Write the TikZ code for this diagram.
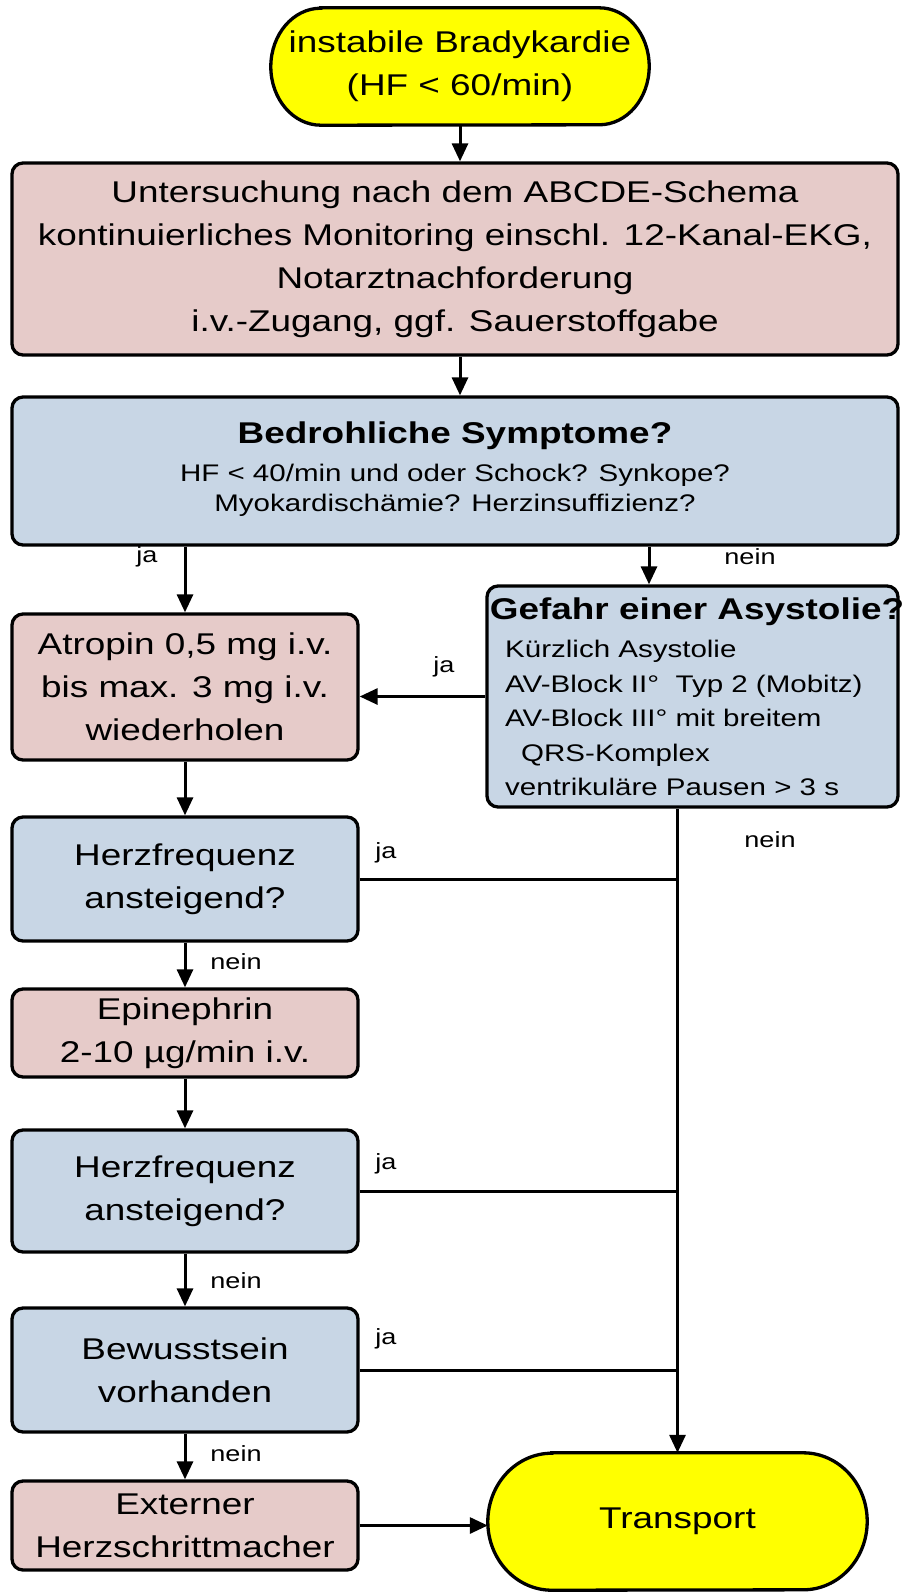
\documentclass[tikz,border=0pt]{standalone}
\usepackage{fontspec}
\setmainfont{Liberation Sans}[FakeStretch=1.23]
\usetikzlibrary{arrows.meta,calc,backgrounds}
\definecolor{pinkbox}{HTML}{E6CBC9}
\definecolor{bluebox}{HTML}{C8D6E5}
\definecolor{termyel}{HTML}{FFFF00}
\tikzset{
  box/.style={draw=black, line width=3.3pt, rounded corners=11pt, inner sep=0pt, align=center, font=\fontsize{30}{43}\selectfont},
  pbox/.style={box, fill=pinkbox},
  bbox/.style={box, fill=bluebox},
  termtext/.style={inner sep=0pt, align=center, font=\fontsize{30}{43}\selectfont},
  term/.style={draw=black, line width=3.3pt, fill=termyel},
  conn/.style={line width=3pt, draw=black},
  arr/.style={conn, -{Triangle[length=18pt,width=16pt]}},
  lbl/.style={font=\fontsize{22}{26}\selectfont, inner sep=0pt},
  plain/.style={inner sep=0pt},
}
\begin{document}
\begin{tikzpicture}[x=1pt,y=1pt]
\useasboundingbox (0,0) rectangle (904,-1593);
% nodes
\node[termtext, minimum width=378, minimum height=117] (s) at (460,-66.5) {instabile Bradykardie\\(HF < 60/min)};
\node[pbox, minimum width=886, minimum height=192] (b1) at (455,-259) {\raisebox{-3pt}{}Untersuchung nach dem ABCDE-Schema\\kontinuierliches Monitoring einschl. 12-Kanal-EKG,\\Notarztnachforderung\\i.v.-Zugang, ggf. Sauerstoffgabe};
\node[bbox, minimum width=886, minimum height=148] (b2) at (455,-471) {};
\node[plain, font=\bfseries\fontsize{30}{36}\selectfont] (b2t) at (455,-436) {Bedrohliche Symptome?};
\node[plain, align=center, font=\fontsize{24}{30}\selectfont] (b2l) at (455,-490) {HF < 40/min und oder Schock? Synkope?\\Myokardischämie? Herzinsuffizienz?};
\node[pbox, minimum width=346, minimum height=146] (atr) at (185,-687) {Atropin 0,5 mg i.v.\\bis max. 3 mg i.v.\\wiederholen};
\node[bbox, minimum width=411, minimum height=221] (gef) at (692.5,-696.5) {};
\node[plain, font=\bfseries\fontsize{30}{36}\selectfont] (geft) at (697,-612) {Gefahr einer Asystolie?};
\node[plain, anchor=west, align=left, font=\fontsize{24}{34.5}\selectfont] (gefl) at (505,-718) {Kürzlich Asystolie\\AV-Block II°\ \ Typ 2 (Mobitz)\\AV-Block III° mit breitem\\\hspace*{16pt}QRS-Komplex\\ventrikuläre Pausen > 3 s};
\node[bbox, minimum width=346, minimum height=124] (h1) at (185,-879) {Herzfrequenz\\ansteigend?};
\node[pbox, minimum width=346, minimum height=88] (epi) at (185,-1033) {Epinephrin\\2-10 µg/min i.v.};
\node[bbox, minimum width=346, minimum height=122] (h2) at (185,-1191) {Herzfrequenz\\ansteigend?};
\node[bbox, minimum width=346, minimum height=124] (bew) at (185,-1370) {Bewusstsein\\vorhanden};
\node[pbox, minimum width=346, minimum height=89] (ext) at (185,-1525.5) {Externer\\Herzschrittmacher};
\node[termtext, minimum width=379, minimum height=137] (tr) at (677.5,-1521.5) {Transport};
% background and terminal shapes
\begin{scope}[on background layer]
\fill[white] (0,0) rectangle (904,-1593);
\draw[term] ($(s.north west)+(50,0)$) -- ($(s.north east)+(-50,0)$)
  arc[start angle=90,end angle=-90,x radius=50,y radius=58.5]
  -- ($(s.south west)+(50,0)$)
  arc[start angle=270,end angle=90,x radius=50,y radius=58.5] -- cycle;
\draw[term] ($(tr.north west)+(64,0)$) -- ($(tr.north east)+(-64,0)$)
  arc[start angle=90,end angle=-90,x radius=64,y radius=68.5]
  -- ($(tr.south west)+(64,0)$)
  arc[start angle=270,end angle=90,x radius=64,y radius=68.5] -- cycle;
\end{scope}
% connectors
\coordinate (gx) at (649,0);
\draw[arr] (s.south) -- (s.south |- b1.north);
\draw[arr] (b1.south -| s.south) -- (s.south |- b2.north);
\draw[arr] (b2.south -| atr.north) -- (atr.north);
\draw[arr] (b2.south -| gx) -- (gef.north -| gx);
\draw[arr] (gef.west) -- (gef.west -| atr.east);
\draw[arr] (atr.south) -- (h1.north);
\draw[arr] (h1.south) -- (epi.north);
\draw[arr] (epi.south) -- (h2.north);
\draw[arr] (h2.south) -- (bew.north);
\draw[arr] (bew.south) -- (ext.north);
\draw[arr] (ext.east) -- (ext.east -| tr.west);
\draw[arr] (gef.south -| tr.north) -- (tr.north);
\draw[conn] (h1.east) -- (h1.east -| tr.north);
\draw[conn] (h2.east) -- (h2.east -| tr.north);
\draw[conn] (bew.east) -- (bew.east -| tr.north);
% labels
\node[lbl] (l1) at (147,-557) {ja};
\node[lbl] (l2) at (750,-557) {nein};
\node[lbl] (l3) at (444,-667) {ja};
\node[lbl] (l4) at (386,-853) {ja};
\node[lbl] (l5) at (770,-840) {nein};
\node[lbl] (l6) at (236,-962) {nein};
\node[lbl] (l7) at (386,-1164) {ja};
\node[lbl] (l8) at (236,-1281) {nein};
\node[lbl] (l9) at (386,-1339) {ja};
\node[lbl] (l10) at (236,-1454) {nein};
\end{tikzpicture}
\end{document}
